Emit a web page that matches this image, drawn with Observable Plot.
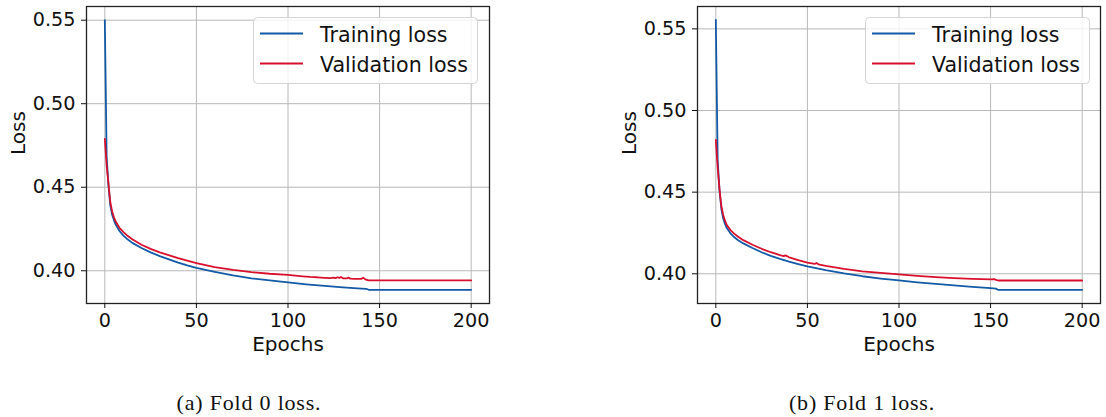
<!DOCTYPE html>
<html><head><meta charset="utf-8">
<script src="https://cdn.jsdelivr.net/npm/d3@7"></script>
<script src="https://cdn.jsdelivr.net/npm/@observablehq/plot@0.6"></script>
<style>
html,body{margin:0;padding:0;background:#fff;}
#root{position:relative;width:1106px;height:417px;overflow:hidden;font-family:"DejaVu Sans",sans-serif;}
.panel{position:absolute;top:0;}
.legend{position:absolute;}
.caption{position:absolute;top:391px;line-height:24px;font-family:"Liberation Serif",serif;font-size:22px;letter-spacing:0.8px;transform:translateX(-50%);white-space:nowrap;color:#111;}
</style></head><body>
<div id="root"></div>
<script>
// ---- Data ----
const seriesNames = ["Training loss", "Validation loss"];
const seriesColors = ["#1259a6", "#d8102d"];
const xTicks = [0, 50, 100, 150, 200];
const yTicks = [0.40, 0.45, 0.50, 0.55];
const captions = ["(a) Fold 0 loss.", "(b) Fold 1 loss."];

const fold0TrainEpochs = [0,1,2,3,4,5,6,8,10,12,15,20,25,30,35,40,45,50,60,70,80,90,100,110,120,130,140,143,144,200];
const fold0TrainLoss = [0.550,0.468,0.451,0.439,0.4335,0.4302,0.4275,0.4238,0.4212,0.4192,0.4167,0.4136,0.4110,0.4088,0.4068,0.4049,0.4032,0.4017,0.3994,0.3973,0.3955,0.3942,0.3930,0.3919,0.3909,0.3900,0.3893,0.3891,0.3886,0.3886];

const fold0ValEpochs = [0,1,2,3,4,5,6,8,10,12,15,20,25,30,40,50,60,70,80,90,100,104,108,112,116,120,123,125,126,127,128,129,130,132,133,134,136,138,140,141,142,143,144,200];
const fold0ValLoss = [0.479,0.463,0.452,0.441,0.4355,0.432,0.4293,0.4257,0.4233,0.4213,0.4189,0.4156,0.4131,0.4110,0.4076,0.4046,0.4022,0.4005,0.3992,0.3982,0.3975,0.3971,0.3967,0.3963,0.3961,0.3958,0.3956,0.3959,0.3956,0.3961,0.3957,0.3962,0.3955,0.3954,0.3959,0.3953,0.3952,0.3951,0.3951,0.3959,0.3950,0.3945,0.3942,0.3942];

const fold1TrainEpochs = [0,1,2,3,4,5,6,8,10,12,15,20,25,30,35,40,45,50,60,70,80,90,100,110,120,130,140,150,153,154,200];
const fold1TrainLoss = [0.5555,0.470,0.451,0.440,0.434,0.4305,0.428,0.4248,0.4225,0.4207,0.4186,0.4158,0.4132,0.4110,0.4091,0.4074,0.4059,0.4045,0.4022,0.4002,0.3985,0.3971,0.3959,0.3948,0.3938,0.3929,0.3920,0.3912,0.3909,0.3902,0.3902];

const fold1ValEpochs = [0,1,2,3,4,5,6,8,10,12,15,20,25,30,35,37,38,40,45,50,54,55,56,60,70,80,90,100,110,120,130,140,150,152,153,154,200];
const fold1ValLoss = [0.482,0.465,0.452,0.4415,0.4362,0.4325,0.4298,0.4268,0.4246,0.4228,0.4206,0.4178,0.4153,0.4132,0.4114,0.4108,0.4113,0.4101,0.4084,0.4069,0.4061,0.4066,0.4058,0.4048,0.4030,0.4015,0.4005,0.3996,0.3987,0.3980,0.3974,0.3969,0.3966,0.3967,0.3963,0.3959,0.3959];

// ---- Build ----
function rows(epochs, losses, series) {
  return epochs.map((e, i) => ({epoch: e, loss: losses[i], series}));
}
const panels = [
  {left: 0, width: 500, marginLeft: 86, marginRight: 11, yDomain: [0.3804, 0.5582],
   legendLeft: 253, captionX: 249,
   data: [...rows(fold0TrainEpochs, fold0TrainLoss, seriesNames[0]), ...rows(fold0ValEpochs, fold0ValLoss, seriesNames[1])]},
  {left: 610, width: 496, marginLeft: 87, marginRight: 6, yDomain: [0.3818, 0.5637],
   legendLeft: 865, captionX: 862,
   data: [...rows(fold1TrainEpochs, fold1TrainLoss, seriesNames[0]), ...rows(fold1ValEpochs, fold1ValLoss, seriesNames[1])]}
];

const root = document.getElementById("root");
const TICK_FONT = 19.2, LABEL_FONT = 20, LEGEND_FONT = 20.6;

panels.forEach((p, idx) => {
  const chart = Plot.plot({
    width: p.width, height: 360,
    marginLeft: p.marginLeft, marginRight: p.marginRight, marginTop: 6, marginBottom: 57,
    style: {fontFamily: "DejaVu Sans", fontSize: TICK_FONT + "px", background: "white", color: "#111", overflow: "visible"},
    x: {domain: [-10, 210]},
    y: {domain: p.yDomain},
    color: {domain: seriesNames, range: seriesColors},
    marks: [
      Plot.gridX(xTicks, {stroke: "#b8b8b8", strokeOpacity: 1, strokeWidth: 1}),
      Plot.gridY(yTicks, {stroke: "#b8b8b8", strokeOpacity: 1, strokeWidth: 1}),
      Plot.line(p.data, {x: "epoch", y: "loss", z: "series", stroke: "series", strokeWidth: 1.8}),
      Plot.frame({stroke: "#222", strokeWidth: 1.3}),
      Plot.axisX({ticks: xTicks, tickSize: 5, tickPadding: 5, fontSize: TICK_FONT, label: null, tickFormat: d3.format("d")}),
      Plot.axisY({ticks: yTicks, tickSize: 5, tickPadding: 6, fontSize: TICK_FONT, label: null, tickFormat: d3.format(".2f")}),
      Plot.text(["Epochs"], {frameAnchor: "bottom", dy: 47, lineAnchor: "bottom", fontSize: LABEL_FONT}),
      Plot.text(["Loss"], {frameAnchor: "left", dx: -62, rotate: -90, lineAnchor: "bottom", fontSize: LABEL_FONT})
    ]
  });
  const wrap = document.createElement("div");
  wrap.className = "panel";
  wrap.style.left = p.left + "px";
  wrap.appendChild(chart);
  root.appendChild(wrap);

  // legend
  const lw = 225, lh = 67;
  const leg = d3.create("svg").attr("class", "legend").attr("width", lw).attr("height", lh)
    .style("left", p.legendLeft + "px").style("top", "17px");
  leg.append("rect").attr("x", 0.5).attr("y", 0.5).attr("width", lw - 1).attr("height", lh - 1)
    .attr("rx", 4).attr("fill", "white").attr("fill-opacity", 0.8).attr("stroke", "#d4d4d4");
  seriesNames.forEach((name, i) => {
    const cy = 16.5 + i * 30;
    leg.append("line").attr("x1", 7).attr("x2", 50).attr("y1", cy).attr("y2", cy)
      .attr("stroke", seriesColors[i]).attr("stroke-width", 1.8);
    leg.append("text").attr("x", 67).attr("y", cy + 8.5).attr("font-size", LEGEND_FONT)
      .attr("font-family", "DejaVu Sans").attr("fill", "#111").text(name);
  });
  root.appendChild(leg.node());

  const cap = document.createElement("div");
  cap.className = "caption";
  cap.style.left = p.captionX + "px";
  cap.textContent = captions[idx];
  root.appendChild(cap);
});
</script>
</body></html>
